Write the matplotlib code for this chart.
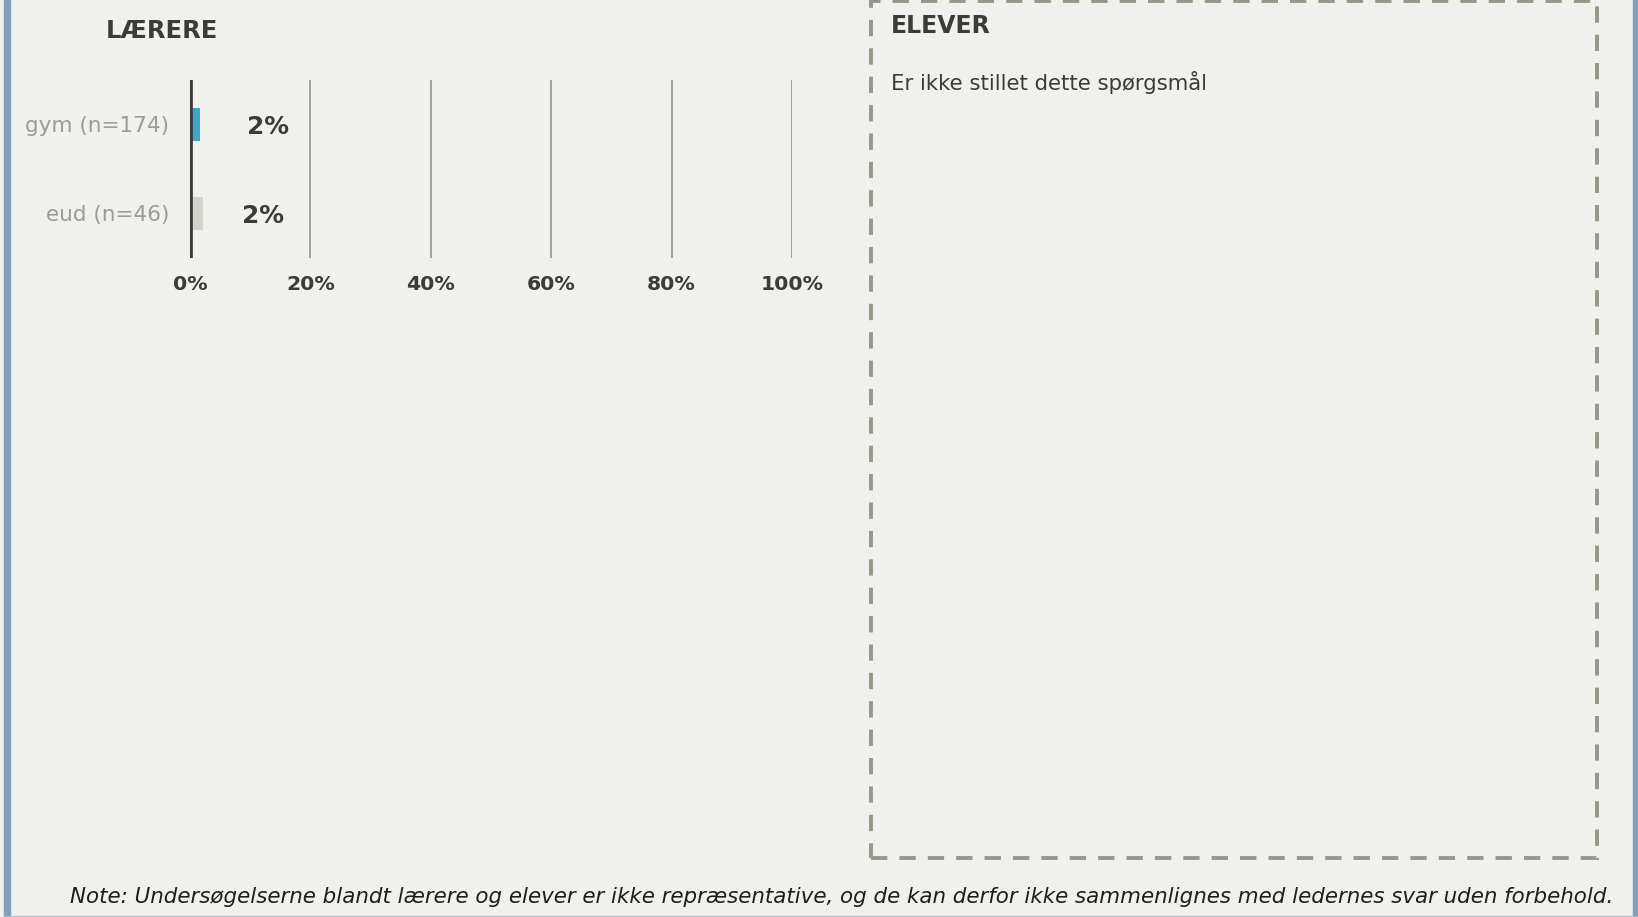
import matplotlib

matplotlib.use("Agg")
import matplotlib.pyplot as plt
from matplotlib.patches import Rectangle

# data
categories = ["gym (n=174)", "eud (n=46)"]
shares = [1.7, 2.2]
share_labels = ["2%", "2%"]
bar_colors = ["#3aa8cc", "#d3d3cb"]
x_ticks = [0, 20, 40, 60, 80, 100]
tick_labels = ["0%", "20%", "40%", "60%", "80%", "100%"]

W, H = 1638, 917
BG = "#f0f0ec"
DARK = "#3c3c37"
GREY = "#9c9c92"

plt.rcParams["font.family"] = ["DejaVu Sans"]

fig = plt.figure(figsize=(W / 100, H / 100), dpi=100, facecolor=BG)


def fx(px):
    return px / W


def fy(py):
    return 1 - py / H


# outer frame (blue side borders)
fig.patches.append(Rectangle((fx(4), 0), fx(6), 1, transform=fig.transFigure,
                             color="#819fbe", zorder=0))
fig.patches.append(Rectangle((fx(1633), 0), fx(5), 1, transform=fig.transFigure,
                             color="#819fbe", zorder=0))
fig.patches.append(Rectangle((fx(4), 0), fx(1634), fy(915.5), transform=fig.transFigure,
                             color="#a9bdd2", zorder=0))

# bar chart panel
ax = fig.add_axes([fx(190), fy(258), fx(602), 178 / H])
ax.set_facecolor("none")
ypos = list(range(len(categories)))
ax.barh(ypos, shares, height=0.36, color=bar_colors, zorder=2)
ax.set_xlim(0, 100)
ax.set_ylim(len(categories) - 0.5, -0.5)
for spine in ax.spines.values():
    spine.set_visible(False)
for t in x_ticks[1:]:
    ax.axvline(t, color="#9a9a94", lw=1.3, zorder=1)
ax.axvline(0, color=DARK, lw=3.4, zorder=3)
ax.set_xticks(x_ticks)
ax.set_xticklabels(tick_labels, fontsize=14.7, fontweight="bold", color=DARK)
ax.tick_params(axis="x", length=0, pad=12.5)
ax.set_yticks(ypos)
ax.set_yticklabels(categories, fontsize=15.5, color=GREY)
ax.tick_params(axis="y", length=0, pad=15)

label_x = [13.0, 12.2]
for y, lx, lab in zip(ypos, label_x, share_labels):
    ax.text(lx, y + 0.025, lab, ha="center", va="center", fontsize=17.8,
            fontweight="bold", color=DARK)

fig.text(fx(106), fy(31.5), "LÆRERE", fontsize=17.5, fontweight="bold",
         color=DARK, ha="left", va="center")

# students panel (dashed box)
fig.patches.append(Rectangle((fx(871), fy(858)), fx(1597 - 871), (858 - 1) / H,
                             transform=fig.transFigure, fill=False,
                             edgecolor="#97978a", lw=2.8,
                             linestyle=(0, (4.2, 3.1)), zorder=1))
fig.text(fx(891), fy(26), "ELEVER", fontsize=17, fontweight="bold",
         color=DARK, ha="left", va="center")
fig.text(fx(891), fy(82.5), "Er ikke stillet dette spørgsmål", fontsize=15.35,
         color=DARK, ha="left", va="center")

fig.text(fx(1613), fy(897),
         "Note: Undersøgelserne blandt lærere og elever er ikke repræsentative, "
         "og de kan derfor ikke sammenlignes med ledernes svar uden forbehold.",
         fontsize=15.4, style="italic", color="#1e1e1e", ha="right", va="center")

fig.savefig("out.png", dpi=100, facecolor=BG)
